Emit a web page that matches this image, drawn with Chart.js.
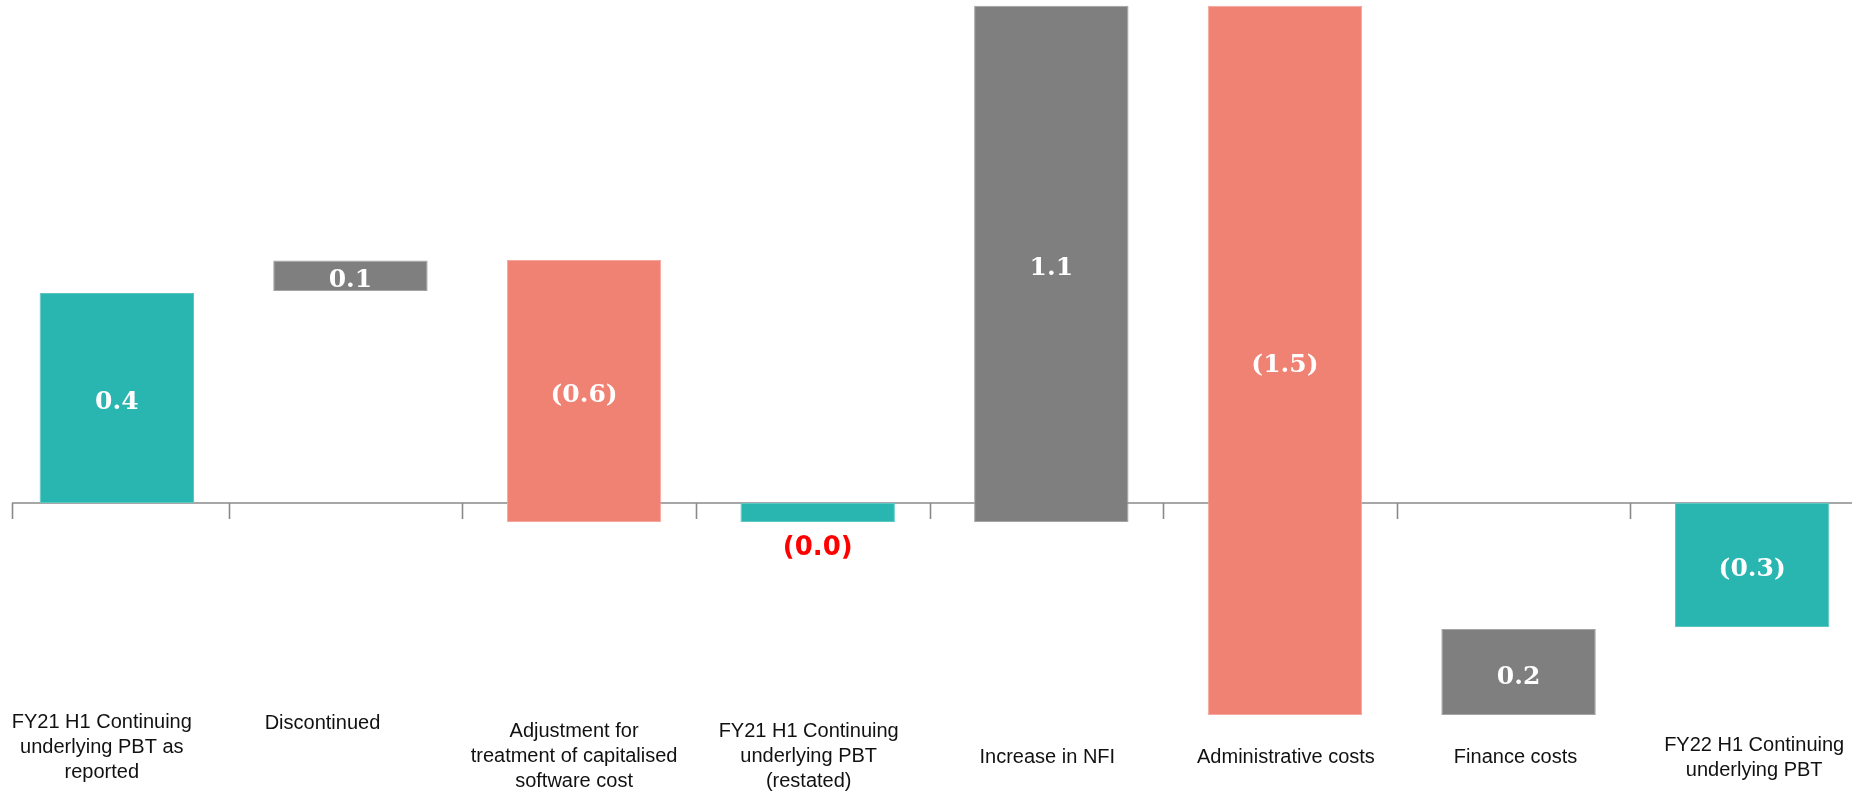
<!DOCTYPE html>
<html lang="en">
<head>
  <meta charset="UTF-8">
  <title>Underlying PBT bridge</title>
  <script src="https://cdn.jsdelivr.net/npm/chart.js"></script>
  <style>
    html, body { margin: 0; padding: 0; background: #fff; overflow: hidden; }
    .wrap { width: 1852px; height: 792px; overflow: hidden; position: relative; }
    canvas { display: block; }
  </style>
</head>
<body>
  <div class="wrap">
    <canvas id="bridge" width="1869" height="792"></canvas>
  </div>

  <script>
    // Categories (multi-line labels as drawn under the axis)
    const categories = [
      ['FY21 H1 Continuing', 'underlying PBT as', 'reported'],
      ['Discontinued'],
      ['Adjustment for', 'treatment of capitalised', 'software cost'],
      ['FY21 H1 Continuing', 'underlying PBT', '(restated)'],
      ['Increase in NFI'],
      ['Administrative costs'],
      ['Finance costs'],
      ['FY22 H1 Continuing', 'underlying PBT']
    ];

    // Floating bar ends, £m
    const barLow  = [0.00, 0.404, -0.036, -0.036, -0.036, -0.404, -0.404, -0.236];
    const barHigh = [0.40, 0.462,  0.463,  0.000,  0.947,  0.947, -0.240,  0.000];

    // Printed value labels
    const valueLabels = ['0.4', '0.1', '(0.6)', '(0.0)', '1.1', '(1.5)', '0.2', '(0.3)'];

    // Bar kind: total / increase / decrease
    const barKind = ['total', 'step', 'down', 'total', 'step', 'down', 'step', 'total'];

    const kindColour = { total: '#29B5B0', step: '#7F7F7F', down: '#F08274' };
    const kindEdge = { total: '#5CC6C2', step: '#A3A3A3', down: '#F5A79D' };

    // label placement under the axis (offset from category centre, top line y)
    const labelPlace = [
      { dx: -15, y: 722 }, { dx: -28, y: 723 }, { dx: -10, y: 731 }, { dx: -9, y: 731 },
      { dx: -4, y: 757 }, { dx: 1, y: 757 }, { dx: -3, y: 757 }, { dx: 2, y: 745 }
    ];
    const LINE_GAP = 25;

    const AXIS_COLOUR = '#8A8A8A';

    // axis line at zero with tick marks between categories
    const zeroAxis = {
      id: 'zeroAxis',
      beforeDatasetsDraw(chart) {
        const ctx = chart.ctx;
        const x = chart.scales.x, y = chart.scales.y;
        const y0 = y.getPixelForValue(0);
        const left = chart.chartArea.left + 12;
        ctx.save();
        ctx.strokeStyle = AXIS_COLOUR;
        ctx.lineWidth = 1.6;
        ctx.beginPath();
        ctx.moveTo(left, y0);
        ctx.lineTo(chart.chartArea.right, y0);
        const ticks = [left];
        for (let i = 0; i < categories.length - 1; i++) {
          ticks.push((x.getPixelForValue(i) + x.getPixelForValue(i + 1)) / 2 - 5);
        }
        ticks.forEach(t => {
          ctx.moveTo(Math.round(t) + 0.5, y0);
          ctx.lineTo(Math.round(t) + 0.5, y0 + 16);
        });
        ctx.stroke();
        ctx.restore();
      }
    };

    // value labels inside bars + category labels underneath
    const barText = {
      id: 'barText',
      afterDatasetsDraw(chart) {
        const ctx = chart.ctx;
        const meta = chart.getDatasetMeta(0);
        ctx.save();
        ctx.textAlign = 'center';
        ctx.textBaseline = 'middle';
        meta.data.forEach((bar, i) => {
          const top = Math.min(bar.y, bar.base);
          const bottom = Math.max(bar.y, bar.base);
          if (bottom - top < 30 && barKind[i] === 'total') {
            // too thin: print below in red
            ctx.fillStyle = '#FF0000';
            ctx.font = 'bold 26px "DejaVu Sans"';
            ctx.fillText(valueLabels[i], bar.x, bottom + 26);
            return;
          }
          ctx.fillStyle = '#FFFFFF';
          ctx.font = 'bold 25px "DejaVu Serif"';
          ctx.fillText(valueLabels[i], bar.x, (top + bottom) / 2 + 5);
        });

        ctx.fillStyle = '#111111';
        ctx.font = '20px "Liberation Sans"';
        ctx.textBaseline = 'middle';
        categories.forEach((lines, i) => {
          const cx = chart.scales.x.getPixelForValue(i) + labelPlace[i].dx;
          lines.forEach((line, j) => {
            ctx.fillText(line, cx, labelPlace[i].y + j * LINE_GAP);
          });
        });
        ctx.restore();
      }
    };

    new Chart(document.getElementById('bridge'), {
      type: 'bar',
      data: {
        labels: categories.map(c => c.join(' ')),
        datasets: [{
          data: barLow.map((lo, i) => [lo, barHigh[i]]),
          backgroundColor: barKind.map(k => kindColour[k]),
          borderColor: barKind.map(k => kindEdge[k]),
          borderWidth: 1,
          borderSkipped: false,
          barPercentage: 0.661,
          categoryPercentage: 1.0
        }]
      },
      options: {
        responsive: false,
        animation: false,
        devicePixelRatio: 1,
        layout: { padding: 0 },
        plugins: {
          legend: { display: false },
          tooltip: { enabled: false },
          title: { display: false }
        },
        scales: {
          x: { display: false },
          y: { display: false, min: -0.5505, max: 0.9581 }
        }
      },
      plugins: [zeroAxis, barText]
    });
  </script>
</body>
</html>
